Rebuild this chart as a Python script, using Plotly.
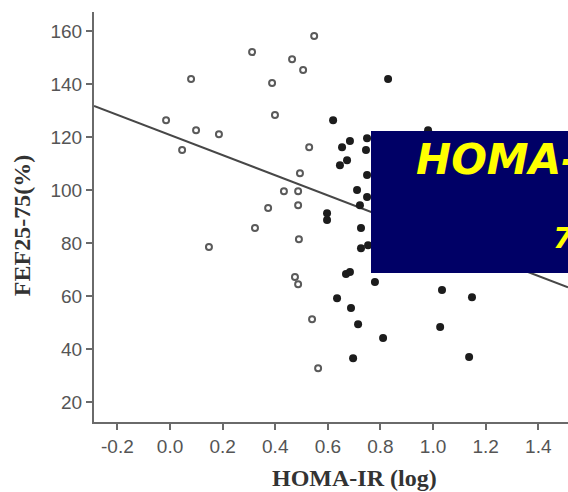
import numpy as np
import plotly.graph_objects as go

# HOMA-IR (log) vs FEF25-75 (%), two subject groups
open_x = [0.312, 0.464, 0.548, 0.506, 0.080, 0.388, 0.399, -0.015, 0.099, 0.186,
          0.046, 0.529, 0.494, 0.433, 0.487, 0.487, 0.373, 0.323, 0.490, 0.148,
          0.475, 0.487, 0.540, 0.563]
open_y = [152.1, 149.4, 158.1, 145.3, 141.9, 140.4, 128.3, 126.4, 122.6, 121.1,
          115.1, 116.2, 106.4, 99.6, 99.6, 94.3, 93.2, 85.7, 81.5, 78.5,
          67.2, 64.5, 51.3, 32.8]

filled_x = [0.829, 0.620, 0.981, 0.654, 0.684, 0.749, 0.745, 0.673, 0.646, 0.749,
            0.711, 0.749, 0.722, 0.597, 0.597, 0.726, 0.726, 0.753, 0.669, 0.684,
            0.779, 0.635, 0.688, 0.715, 0.810, 0.696, 1.034, 1.148, 1.027, 1.137]
filled_y = [141.9, 126.4, 122.6, 116.2, 118.5, 119.6, 115.1, 111.3, 109.4, 105.7,
            100.0, 97.4, 94.3, 91.3, 88.7, 85.7, 78.1, 79.2, 68.3, 69.1,
            65.3, 59.2, 55.5, 49.4, 44.2, 36.6, 62.3, 59.6, 48.3, 37.0]

# linear fit drawn across the whole x range
fit_slope = -38.0
fit_intercept = 120.8

x_range = [-0.289, 1.513]
y_range = [12.5, 167.2]
x_ticks = [-0.2, 0.0, 0.2, 0.4, 0.6, 0.8, 1.0, 1.2, 1.4]
y_ticks = [20, 40, 60, 80, 100, 120, 140, 160]

fit_x = np.array(x_range)
fit_y = fit_intercept + fit_slope * fit_x

fig = go.Figure()
fig.add_trace(go.Scatter(
    x=fit_x, y=fit_y, mode="lines",
    line=dict(color="#474747", width=2), hoverinfo="skip"))
fig.add_trace(go.Scatter(
    x=open_x, y=open_y, mode="markers",
    marker=dict(symbol="circle-open", size=6, color="#5a5a5a",
                line=dict(width=2, color="#5a5a5a"))))
fig.add_trace(go.Scatter(
    x=filled_x, y=filled_y, mode="markers",
    marker=dict(symbol="circle", size=8, color="#1c1c1c",
                line=dict(width=0))))

tick_font = dict(family="Liberation Sans, Arial, sans-serif", size=19, color="#555555")
title_font = dict(family="Liberation Serif, Times New Roman, serif", size=24, color="#333333",
                  weight="bold")

fig.update_xaxes(
    range=x_range, tickvals=x_ticks, ticktext=[f"{v:.1f}" for v in x_ticks],
    showgrid=False, zeroline=False, showline=True, linecolor="#6a6a6a", linewidth=2,
    ticks="outside", ticklen=6, tickwidth=2, tickcolor="#6a6a6a",
    tickfont=tick_font)
fig.update_yaxes(
    range=y_range, tickvals=y_ticks,
    showgrid=False, zeroline=False, showline=True, linecolor="#6a6a6a", linewidth=2,
    ticks="outside", ticklen=6, tickwidth=2, tickcolor="#6a6a6a",
    tickfont=tick_font)

# axis titles
fig.add_annotation(xref="paper", yref="paper", x=0.549, y=-0.137,
                   xanchor="center", yanchor="middle", showarrow=False,
                   text="HOMA-IR (log)", font=title_font)
fig.add_annotation(xref="paper", yref="paper", x=-0.152, y=0.480,
                   xanchor="center", yanchor="middle", showarrow=False,
                   textangle=-90, text="FEF25-75(%)", font=title_font)

# navy caption panel over the right side of the plot
fig.add_shape(type="rect", xref="paper", yref="paper",
              x0=0.5844, x1=1.08, y0=0.3634, y1=0.7098,
              fillcolor="rgb(0,0,102)", line=dict(width=0), layer="above")
fig.add_annotation(xref="paper", yref="paper", x=0.675, y=0.640,
                   xanchor="left", yanchor="middle", showarrow=False,
                   text="HOMA-IR",
                   font=dict(family="DejaVu Sans, sans-serif", size=42,
                             color="#ffff00", weight="bold", style="italic"))
fig.add_annotation(xref="paper", yref="paper", x=0.965, y=0.448,
                   xanchor="left", yanchor="middle", showarrow=False,
                   text="7",
                   font=dict(family="DejaVu Sans, sans-serif", size=29,
                             color="#ffff00", weight="bold", style="italic"))

fig.update_layout(
    width=568, height=492,
    margin=dict(l=94, r=0, t=12, b=70),
    paper_bgcolor="white", plot_bgcolor="white",
    showlegend=False,
)

fig.write_html("out.html")
